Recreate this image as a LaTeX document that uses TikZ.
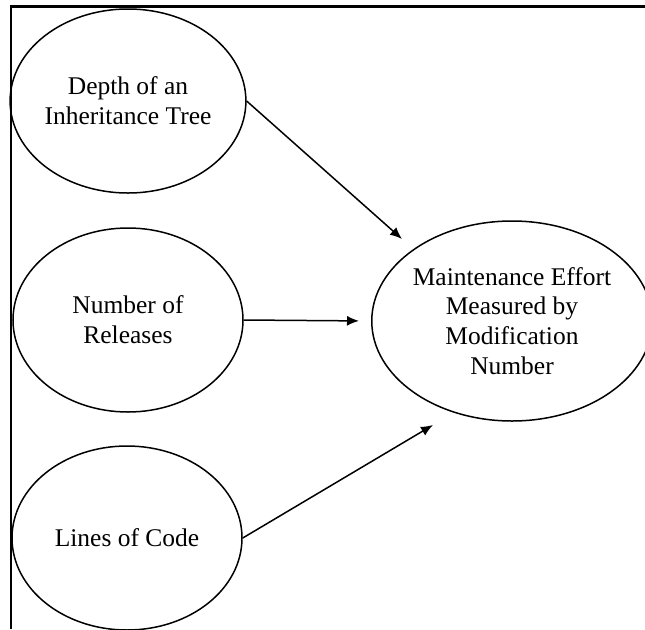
\documentclass[tikz,border=0pt]{standalone}
\usepackage{fontspec}
\setmainfont{Liberation Serif}
\usepackage{tikz}
\usetikzlibrary{shapes.geometric,arrows.meta}
\tikzstyle{factor}=[ellipse, draw=black, line width=.3mm, minimum width=4.6cm, minimum height=3.68cm, inner sep=0pt, align=center, font=\fontsize{14.5}{17}\selectfont]
\tikzstyle{effort} = [factor, minimum width=5.28cm, minimum height=4cm]
\tikzstyle{frame} = [draw, line width=.45mm, black]
\tikzstyle{arrow} = [draw, line width=.3mm, -{Latex[length=2.4mm, width=2mm]}, black]

\begin{document}
\begin{tikzpicture}

					\useasboundingbox (0,0) rectangle (12.9,-12.58);
					\draw[frame] (.22,-12.58) -- (.22,-.13) -- (12.9,-.13);

					\node[factor] (x_1) at (2.56,-2.02) {Depth of an\\Inheritance Tree};
					\node[factor] (x_2) at (2.56,-6.4) {Number of\\Releases};
					\node[factor] (x_3) at (2.54,-10.76) {Lines of Code};

					\node[effort] (y) at (10.24,-6.42) {Maintenance Effort\\Measured by\\Modification\\Number};

					% tips stop short of the ellipse
					\coordinate (t_1) at (8.04,-4.78);
					\coordinate (t_3) at (8.66,-8.5);

					\draw[arrow] (x_1.east) -- (t_1);
					\draw[arrow, shorten >=.24cm] (x_2.east) -- (y.west);
					\draw[arrow] (x_3.east) -- (t_3);
				\end{tikzpicture}
\end{document}
